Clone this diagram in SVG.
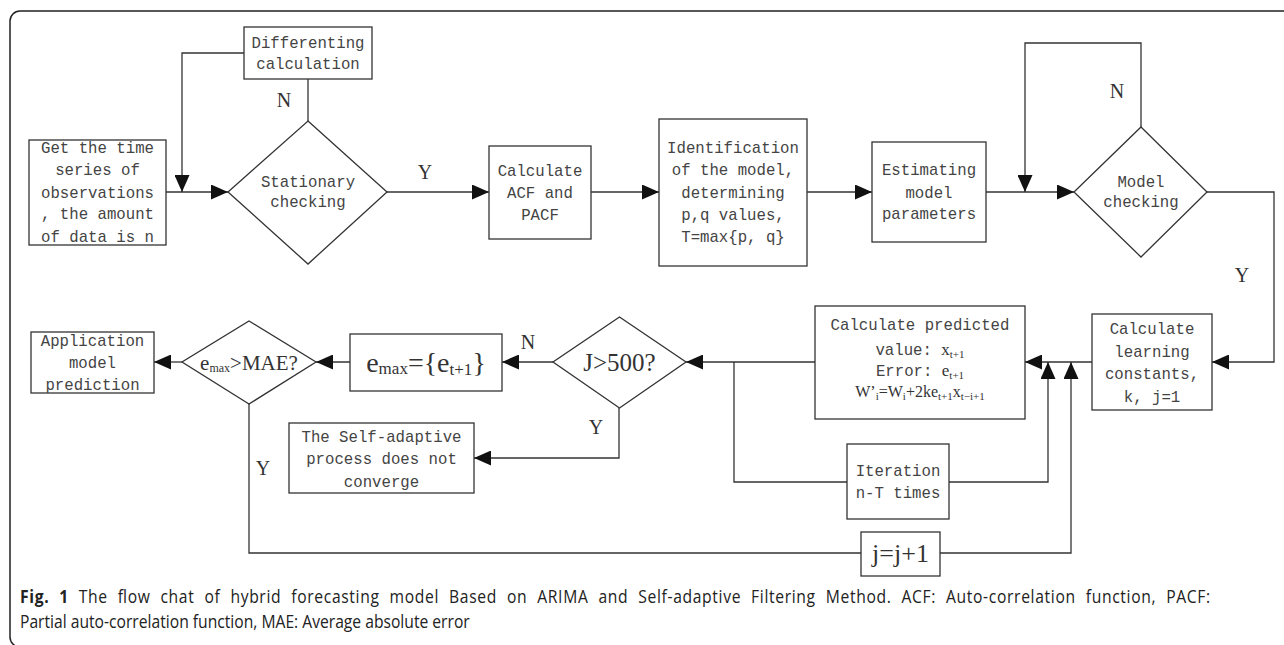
<svg xmlns="http://www.w3.org/2000/svg" width="1284" height="645" viewBox="0 0 1284 645">
<style>
.box{fill:#fff;stroke:#333;stroke-width:1.3}
.ln{fill:none;stroke:#333;stroke-width:1.3}
.t{font-family:"Liberation Mono","DejaVu Sans Mono",monospace;font-size:15.7px;fill:#444;text-anchor:middle}
.s{font-family:"Liberation Serif","Times New Roman",serif;fill:#333;text-anchor:middle}
.lab{font-family:"Liberation Serif","Times New Roman",serif;font-size:20px;fill:#333;text-anchor:middle}
.cap{font-family:"Open Sans","Liberation Sans",sans-serif;font-size:18px;fill:#222}
</style>
<defs>
<marker id="ah" markerUnits="userSpaceOnUse" markerWidth="17" markerHeight="15" refX="17" refY="7.5" orient="auto">
<path d="M0,0 L17,7.5 L0,15 z" fill="#111"/>
</marker>
</defs>
<rect x="10" y="11" width="1290" height="636" rx="10" fill="#fff" stroke="#222" stroke-width="1.5"/>

<g id="connectors">
<path class="ln" d="M166,192 H228" marker-end="url(#ah)"/>
<path class="ln" d="M308,121 V79"/>
<path class="ln" d="M244,53 H182 V192" marker-end="url(#ah)"/>
<path class="ln" d="M387,192 H489" marker-end="url(#ah)"/>
<path class="ln" d="M591,192 H659" marker-end="url(#ah)"/>
<path class="ln" d="M807,192 H872" marker-end="url(#ah)"/>
<path class="ln" d="M986,192 H1074" marker-end="url(#ah)"/>
<path class="ln" d="M1141,127 V43 H1025 V192" marker-end="url(#ah)"/>
<path class="ln" d="M1207,192 H1274 V362 H1212" marker-end="url(#ah)"/>
<path class="ln" d="M1092,362 H1025" marker-end="url(#ah)"/>
<path class="ln" d="M949,482 H1048 V362" marker-end="url(#ah)"/>
<path class="ln" d="M940,553 H1071 V362" marker-end="url(#ah)"/>
<path class="ln" d="M815,362 H686" marker-end="url(#ah)"/>
<path class="ln" d="M734,362 V482 H847"/>
<path class="ln" d="M553,362 H502" marker-end="url(#ah)"/>
<path class="ln" d="M619,408 V458 H474" marker-end="url(#ah)"/>
<path class="ln" d="M350,362 H316" marker-end="url(#ah)"/>
<path class="ln" d="M182,362 H154" marker-end="url(#ah)"/>
<path class="ln" d="M249,404 V553 H861"/>
<text class="lab" x="284" y="107">N</text>
<text class="lab" x="425" y="179">Y</text>
<text class="lab" x="1117" y="98">N</text>
<text class="lab" x="1242" y="282">Y</text>
<text class="lab" x="528" y="349">N</text>
<text class="lab" x="596" y="434">Y</text>
<text class="lab" x="263" y="475">Y</text>
</g>

<g id="get-series">
<rect class="box" x="29" y="140" width="137" height="105"/>
<text class="t" x="97.5" y="153">Get the time</text>
<text class="t" x="97.5" y="175">series of</text>
<text class="t" x="97.5" y="198">observations</text>
<text class="t" x="97.5" y="219">, the amount</text>
<text class="t" x="97.5" y="242">of data is n</text>
</g>

<g id="differenting">
<rect class="box" x="244" y="27" width="128" height="52"/>
<text class="t" x="308" y="48">Differenting</text>
<text class="t" x="308" y="69">calculation</text>
</g>

<g id="stationary">
<polygon class="box" points="308,121 387,192 308,264 228,192"/>
<text class="t" x="308" y="187">Stationary</text>
<text class="t" x="308" y="207">checking</text>
</g>

<g id="acf">
<rect class="box" x="489" y="146" width="102" height="93"/>
<text class="t" x="540" y="176">Calculate</text>
<text class="t" x="540" y="198">ACF and</text>
<text class="t" x="540" y="220">PACF</text>
</g>

<g id="identification">
<rect class="box" x="659" y="119" width="148" height="147"/>
<text class="t" x="733" y="153">Identification</text>
<text class="t" x="733" y="175">of the model,</text>
<text class="t" x="733" y="198">determining</text>
<text class="t" x="733" y="220">p,q values,</text>
<text class="t" x="733" y="242">T=max{p, q}</text>
</g>

<g id="estimating">
<rect class="box" x="872" y="142" width="114" height="100"/>
<text class="t" x="929" y="175">Estimating</text>
<text class="t" x="929" y="198">model</text>
<text class="t" x="929" y="219">parameters</text>
</g>

<g id="model-checking">
<polygon class="box" points="1141,127 1207,192 1141,257 1074,192"/>
<text class="t" x="1141" y="187">Model</text>
<text class="t" x="1141" y="207">checking</text>
</g>

<g id="learning">
<rect class="box" x="1092" y="314" width="120" height="96"/>
<text class="t" x="1152" y="334">Calculate</text>
<text class="t" x="1152" y="357">learning</text>
<text class="t" x="1152" y="379">constants,</text>
<text class="t" x="1152" y="402">k,  j=1</text>
</g>

<g id="predicted">
<rect class="box" x="815" y="306" width="210" height="113"/>
<text class="t" x="920" y="330">Calculate predicted</text>
<text class="t" x="920" y="355">value: <tspan class="s" font-size="17">x</tspan><tspan class="s" font-size="11" dy="3">t+1</tspan></text>
<text class="t" x="920" y="376">Error: <tspan class="s" font-size="17">e</tspan><tspan class="s" font-size="11" dy="3">t+1</tspan></text>
<text class="s" x="920" y="397" font-size="16">W’<tspan font-size="11" dy="3">i</tspan><tspan dy="-3">=W</tspan><tspan font-size="11" dy="3">i</tspan><tspan dy="-3">+2ke</tspan><tspan font-size="11" dy="3">t+1</tspan><tspan dy="-3">x</tspan><tspan font-size="11" dy="3">t−i+1</tspan></text>
</g>

<g id="iteration">
<rect class="box" x="847" y="444" width="102" height="75"/>
<text class="t" x="898" y="476">Iteration</text>
<text class="t" x="898" y="498">n-T times</text>
</g>

<g id="j-increment">
<rect class="box" x="861" y="532" width="79" height="44"/>
<text class="s" x="900.5" y="562" font-size="26">j=j+1</text>
</g>

<g id="j500">
<polygon class="box" points="619.5,317 686,362 619.5,408 553,362"/>
<text class="s" x="619.5" y="371" font-size="25">J&gt;500?</text>
</g>

<g id="emax-box">
<rect class="box" x="350" y="334" width="152" height="57"/>
<text class="s" x="426" y="372" font-size="28">e<tspan font-size="17" dy="2">max</tspan><tspan dy="-2">={e</tspan><tspan font-size="17" dy="3">t+1</tspan><tspan dy="-3">}</tspan></text>
</g>

<g id="emax-mae">
<polygon class="box" points="249,321 316,362 249,404 182,362"/>
<text class="s" x="249" y="370" font-size="21">e<tspan font-size="12" dy="2">max</tspan><tspan dy="-2">&gt;MAE?</tspan></text>
</g>

<g id="application">
<rect class="box" x="31" y="332" width="123" height="61"/>
<text class="t" x="92.5" y="346">Application</text>
<text class="t" x="92.5" y="368">model</text>
<text class="t" x="92.5" y="390">prediction</text>
</g>

<g id="not-converge">
<rect class="box" x="289" y="423" width="185" height="70"/>
<text class="t" x="381.5" y="442">The Self-adaptive</text>
<text class="t" x="381.5" y="464">process does not</text>
<text class="t" x="381.5" y="487">converge</text>
</g>

<g id="caption" transform="translate(20,0) scale(0.87,1)">
<text class="cap" x="0" y="603" word-spacing="6" textLength="1368" lengthAdjust="spacing"><tspan font-weight="bold">Fig. 1</tspan> The flow chat of hybrid forecasting model Based on ARIMA and Self-adaptive Filtering Method. ACF: Auto-correlation function, PACF:</text>
<text class="cap" x="0" y="628">Partial auto-correlation function, MAE: Average absolute error</text>
</g>
</svg>
